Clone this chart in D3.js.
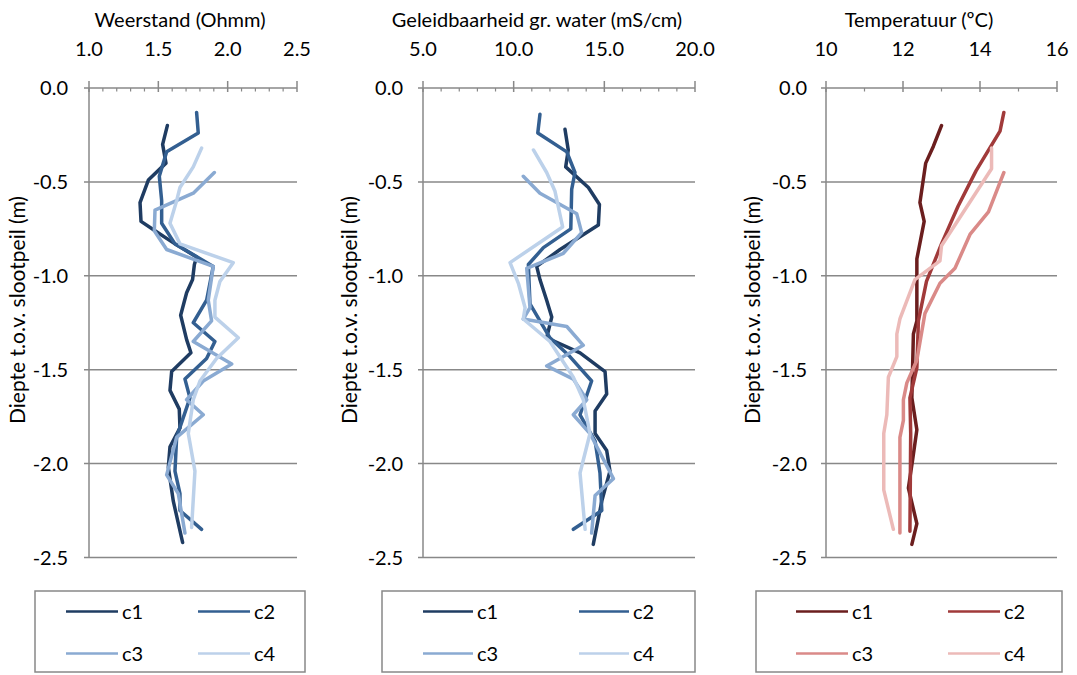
<!DOCTYPE html>
<html>
<head>
<meta charset="utf-8">
<script src="https://cdn.jsdelivr.net/npm/d3@7/dist/d3.min.js"></script>
<style>
  body { margin: 0; background: #fff; }
  svg text { font-family: Lato, "Open Sans", sans-serif; fill: #000; }
</style>
</head>
<body>
<div id="chart"></div>
<script>
// series labels
const seriesNames = ["c1", "c2", "c3", "c4"];
const blueColors = ["#1f3c62", "#335f91", "#8aaad2", "#bcd1ea"];
const redColors = ["#6b1e1e", "#a13a3a", "#da8a88", "#ecbab8"];

// depth ticks (m)
const depthTicks = [0, -0.5, -1.0, -1.5, -2.0, -2.5];

// Weerstand (Ohmm): [value, depth]
const resC1 = [[1.565,-0.20],[1.531,-0.30],[1.555,-0.40],[1.428,-0.49],[1.368,-0.61],[1.375,-0.71],[1.476,-0.76],[1.62,-0.83],[1.776,-0.90],[1.76,-0.94],[1.747,-1.02],[1.704,-1.09],[1.661,-1.21],[1.704,-1.34],[1.735,-1.41],[1.596,-1.51],[1.584,-1.61],[1.651,-1.71],[1.656,-1.81],[1.584,-1.91],[1.572,-2.02],[1.608,-2.20],[1.675,-2.42]];
const resC2 = [[1.776,-0.13],[1.788,-0.24],[1.56,-0.34],[1.507,-0.47],[1.524,-0.60],[1.524,-0.72],[1.62,-0.83],[1.896,-0.95],[1.848,-1.13],[1.752,-1.25],[1.908,-1.35],[1.848,-1.44],[1.692,-1.55],[1.728,-1.65],[1.632,-1.86],[1.62,-2.04],[1.656,-2.16],[1.656,-2.25],[1.812,-2.35]];
const resC3 = [[1.904,-0.45],[1.752,-0.56],[1.476,-0.65],[1.471,-0.76],[1.56,-0.86],[1.896,-0.95],[1.86,-1.13],[1.884,-1.24],[1.752,-1.35],[2.029,-1.47],[1.824,-1.56],[1.704,-1.66],[1.824,-1.74],[1.632,-1.86],[1.56,-2.06],[1.644,-2.16],[1.692,-2.37]];
const resC4 = [[1.812,-0.32],[1.752,-0.42],[1.656,-0.53],[1.632,-0.60],[1.584,-0.72],[1.656,-0.83],[2.04,-0.93],[1.944,-1.03],[1.908,-1.13],[1.908,-1.22],[2.077,-1.33],[1.92,-1.44],[1.8,-1.56],[1.752,-1.66],[1.716,-1.84],[1.764,-2.04],[1.74,-2.34]];

// Geleidbaarheid gr. water (mS/cm): [value, depth]
const ecC1 = [[12.83,-0.22],[13.01,-0.33],[12.87,-0.42],[14.12,-0.53],[14.73,-0.62],[14.67,-0.73],[12.56,-0.86],[11.27,-0.95],[11.45,-1.02],[11.82,-1.13],[12.1,-1.22],[11.82,-1.33],[13.66,-1.41],[15.04,-1.51],[15.13,-1.63],[14.49,-1.72],[14.49,-1.84],[15.13,-1.93],[15.31,-2.04],[14.86,-2.20],[14.39,-2.43]];
const ecC2 = [[11.45,-0.14],[11.33,-0.24],[12.93,-0.34],[13.38,-0.45],[13.2,-0.54],[13.15,-0.75],[11.64,-0.85],[10.81,-0.94],[10.9,-1.15],[12.0,-1.33],[13.1,-1.43],[14.3,-1.56],[13.66,-1.74],[14.49,-1.88],[14.76,-2.05],[14.86,-2.25],[13.29,-2.35]];
const ecC3 = [[10.53,-0.47],[11.45,-0.56],[13.48,-0.67],[13.75,-0.77],[12.74,-0.88],[10.72,-0.96],[10.9,-1.17],[10.53,-1.23],[12.93,-1.27],[13.84,-1.37],[11.82,-1.48],[13.29,-1.55],[14.03,-1.66],[13.29,-1.74],[14.21,-1.84],[15.5,-2.08],[14.49,-2.17],[14.3,-2.37]];
const ecC4 = [[11.09,-0.33],[11.82,-0.45],[12.28,-0.55],[12.7,-0.74],[9.8,-0.93],[10.26,-1.04],[10.63,-1.17],[10.53,-1.23],[12.0,-1.35],[13.29,-1.54],[13.84,-1.66],[14.21,-1.84],[13.66,-2.05],[13.94,-2.35]];

// Temperatuur (ºC): [value, depth]
const tC1 = [[13.0,-0.20],[12.79,-0.31],[12.59,-0.40],[12.44,-0.61],[12.55,-0.71],[12.36,-0.91],[12.36,-1.24],[12.27,-1.31],[12.23,-1.65],[12.36,-1.82],[12.25,-1.98],[12.14,-2.13],[12.36,-2.32],[12.23,-2.43]];
const tC2 = [[14.62,-0.13],[14.52,-0.23],[13.9,-0.44],[13.43,-0.63],[13.0,-0.83],[12.61,-1.03],[12.4,-1.24],[12.36,-1.49],[12.18,-1.65],[12.2,-1.84],[12.18,-2.36]];
const tC3 = [[14.62,-0.45],[14.22,-0.66],[13.74,-0.78],[13.35,-0.96],[12.96,-1.04],[12.57,-1.20],[12.36,-1.45],[12.1,-1.57],[12.01,-1.66],[12.01,-1.77],[11.92,-1.86],[11.92,-2.37]];
const tC4 = [[14.3,-0.32],[14.3,-0.43],[13.0,-0.84],[12.96,-0.92],[12.31,-1.02],[11.92,-1.23],[11.84,-1.31],[11.84,-1.43],[11.62,-1.54],[11.58,-1.74],[11.5,-1.84],[11.5,-2.14],[11.75,-2.35]];

const width = 1077, height = 675;
const svg = d3.select("#chart").append("svg")
  .attr("width", width).attr("height", height);

const yTop = 88, yBottom = 557.5;
const axisColor = "#888888";
const fontSize = 20;
const fmt1 = d => d.toFixed(1); // plain hyphen for negatives

const panels = [
  { title: "Weerstand (Ohmm)", x0: 89, x1: 297, domain: [1.0, 2.5],
    ticks: [1.0, 1.5, 2.0, 2.5], minor: 0.1, fmt: fmt1,
    series: [resC1, resC2, resC3, resC4], colors: blueColors,
    titleX: 180, yLabelX: 18, tickRight: 68,
    legend: { x0: 35, x1: 305, col: [66, 198], lineLen: 52 } },
  { title: "Geleidbaarheid gr. water (mS/cm)", x0: 423, x1: 695, domain: [5, 20],
    ticks: [5, 10, 15, 20], minor: 1, fmt: fmt1,
    series: [ecC1, ecC2, ecC3, ecC4], colors: blueColors,
    titleX: 537, yLabelX: 350, tickRight: 403,
    legend: { x0: 382, x1: 695, col: [423, 579], lineLen: 50 } },
  { title: "Temperatuur (\u00baC)", x0: 826, x1: 1057, domain: [10, 16],
    ticks: [10, 12, 14, 16], minor: 1, fmt: d => String(d),
    series: [tC1, tC2, tC3, tC4], colors: redColors,
    titleX: 919, yLabelX: 753, tickRight: 807,
    legend: { x0: 756, x1: 1062, col: [796, 948], lineLen: 52 } }
];

const yScale = d3.scaleLinear().domain([0, -2.5]).range([yTop, yBottom]);

panels.forEach(p => {
  const xScale = d3.scaleLinear().domain(p.domain).range([p.x0, p.x1]);
  const g = svg.append("g");

  // horizontal gridlines (incl. bottom line at -2.5)
  g.selectAll(".grid").data(depthTicks.slice(1)).enter().append("line")
    .attr("x1", p.x0 - 5).attr("x2", p.x1)
    .attr("y1", d => yScale(d)).attr("y2", d => yScale(d))
    .attr("stroke", axisColor).attr("stroke-width", 1.5);

  // vertical axis
  g.append("line")
    .attr("x1", p.x0).attr("x2", p.x0).attr("y1", yTop).attr("y2", yBottom)
    .attr("stroke", axisColor).attr("stroke-width", 1.5);

  // top axis line + ticks
  g.append("line")
    .attr("x1", p.x0 - 5).attr("x2", p.x1).attr("y1", yTop).attr("y2", yTop)
    .attr("stroke", axisColor).attr("stroke-width", 1.5);
  const minorTicks = d3.range(p.domain[0], p.domain[1] + 1e-9, p.minor)
    .filter(v => !p.ticks.some(t => Math.abs(t - v) < 1e-6));
  g.selectAll(".minor").data(minorTicks).enter().append("line")
    .attr("x1", d => xScale(d)).attr("x2", d => xScale(d))
    .attr("y1", yTop).attr("y2", yTop + 3.5)
    .attr("stroke", axisColor).attr("stroke-width", 1.2);
  g.selectAll(".major").data(p.ticks).enter().append("line")
    .attr("x1", d => xScale(d)).attr("x2", d => xScale(d))
    .attr("y1", yTop - 7).attr("y2", yTop + 4)
    .attr("stroke", axisColor).attr("stroke-width", 1.5);

  // top tick labels
  g.selectAll(".xlab").data(p.ticks).enter().append("text")
    .attr("x", d => xScale(d)).attr("y", 56)
    .attr("text-anchor", "middle").attr("font-size", fontSize)
    .text(d => p.fmt(d));

  // depth tick labels
  g.selectAll(".ylab").data(depthTicks).enter().append("text")
    .attr("x", p.tickRight).attr("y", d => yScale(d) + 7)
    .attr("text-anchor", "end").attr("font-size", fontSize)
    .text(d => fmt1(d));

  // title
  g.append("text").attr("x", p.titleX).attr("y", 27)
    .attr("text-anchor", "middle").attr("font-size", fontSize)
    .text(p.title);

  // y axis title
  g.append("text")
    .attr("transform", `translate(${p.yLabelX + 7},${310}) rotate(-90)`)
    .attr("text-anchor", "middle").attr("font-size", 21)
    .text("Diepte t.o.v. slootpeil (m)");

  // lines
  const line = d3.line().x(d => xScale(d[0])).y(d => yScale(d[1]));
  p.series.forEach((s, i) => {
    g.append("path")
      .attr("d", line(s))
      .attr("fill", "none")
      .attr("stroke", p.colors[i])
      .attr("stroke-width", 3.5)
      .attr("stroke-linejoin", "round")
      .attr("stroke-linecap", "round");
  });

  // legend
  const L = p.legend;
  g.append("rect")
    .attr("x", L.x0).attr("y", 591)
    .attr("width", L.x1 - L.x0).attr("height", 81)
    .attr("fill", "none").attr("stroke", axisColor).attr("stroke-width", 1.5);
  seriesNames.forEach((name, i) => {
    const lx = L.col[i % 2];
    const ly = i < 2 ? 611.5 : 653.5;
    g.append("line")
      .attr("x1", lx).attr("x2", lx + L.lineLen)
      .attr("y1", ly).attr("y2", ly)
      .attr("stroke", p.colors[i]).attr("stroke-width", 2.5);
    g.append("text")
      .attr("x", lx + L.lineLen + 4).attr("y", ly + 7)
      .attr("font-size", fontSize)
      .text(name);
  });
});
</script>
</body>
</html>
